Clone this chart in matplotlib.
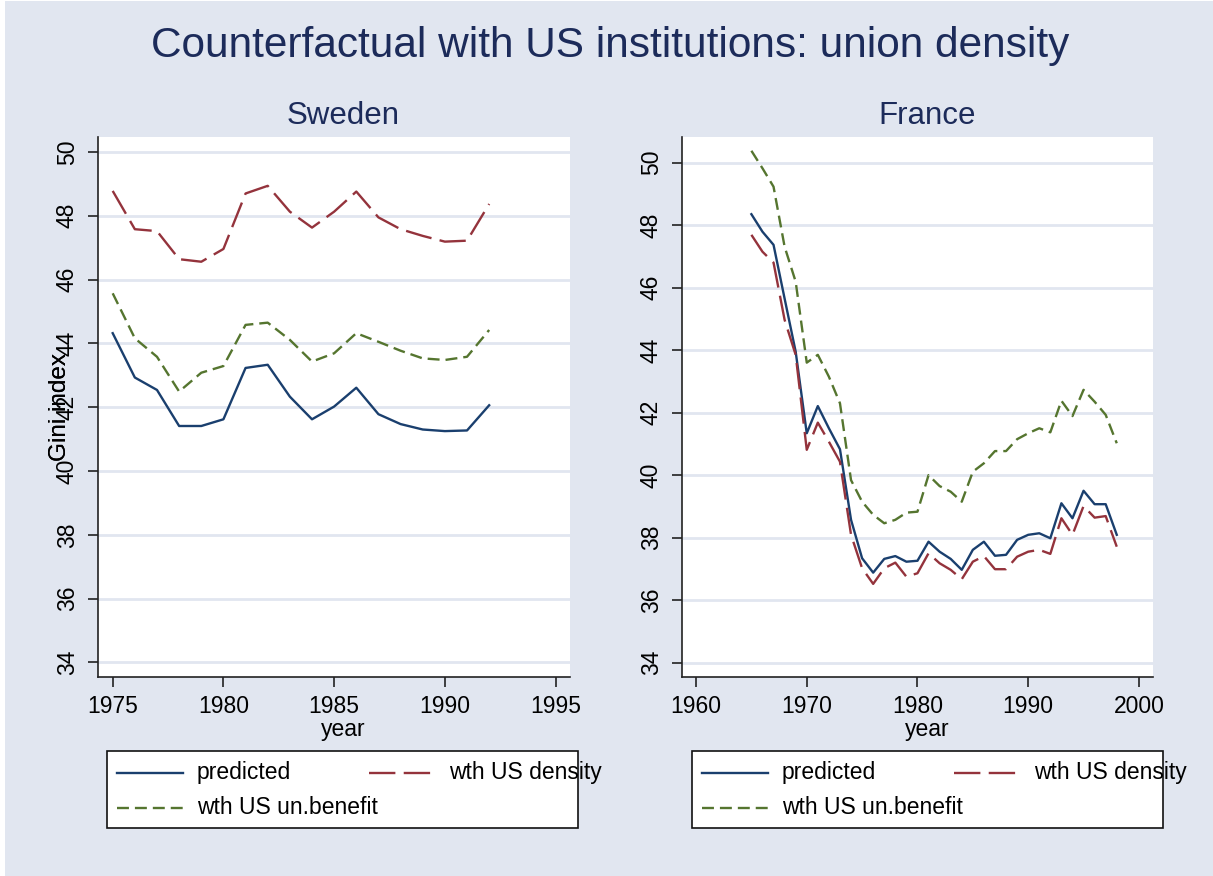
import matplotlib
matplotlib.use("Agg")
import matplotlib.pyplot as plt
from matplotlib.lines import Line2D
from matplotlib.patches import Rectangle

plt.rcParams['font.family'] = ['Liberation Sans', 'DejaVu Sans']
plt.rcParams['lines.scale_dashes'] = False

# --- data ---
swe_years = list(range(1975, 1993))
swe_pred = [44.32, 42.93, 42.54, 41.41, 41.41, 41.62, 43.23, 43.33, 42.33, 41.62,
            42.02, 42.61, 41.78, 41.47, 41.30, 41.25, 41.27, 42.06]
swe_density = [48.78, 47.58, 47.52, 46.64, 46.56, 46.96, 48.70, 48.94, 48.13, 47.63,
               48.13, 48.76, 47.95, 47.58, 47.37, 47.19, 47.22, 48.37]
swe_benefit = [45.57, 44.16, 43.58, 42.49, 43.08, 43.29, 44.58, 44.65, 44.11, 43.43,
               43.69, 44.32, 44.05, 43.77, 43.53, 43.48, 43.58, 44.42]

fra_years = list(range(1965, 1999))
fra_pred = [48.35, 47.79, 47.37, 45.65, 43.95, 41.34, 42.21, 41.50, 40.83, 38.57,
            37.34, 36.88, 37.32, 37.41, 37.23, 37.26, 37.87, 37.55, 37.32, 36.97,
            37.61, 37.87, 37.42, 37.45, 37.93, 38.09, 38.14, 37.98, 39.10, 38.62,
            39.50, 39.07, 39.07, 38.09]
fra_density = [47.69, 47.15, 46.80, 44.97, 43.85, 40.81, 41.68, 41.07, 40.43, 38.09,
               37.02, 36.52, 37.02, 37.20, 36.75, 36.86, 37.50, 37.18, 36.97, 36.67,
               37.23, 37.41, 36.99, 36.99, 37.39, 37.55, 37.61, 37.48, 38.62, 38.09,
               39.01, 38.64, 38.69, 37.71]
fra_benefit = [50.38, 49.82, 49.23, 47.31, 46.19, 43.60, 43.85, 43.15, 42.30, 39.84,
               39.15, 38.73, 38.46, 38.57, 38.80, 38.83, 40.00, 39.65, 39.47, 39.15,
               40.11, 40.38, 40.77, 40.77, 41.15, 41.34, 41.50, 41.37, 42.38, 41.89,
               42.73, 42.35, 41.93, 41.02]

series_labels = ['predicted', 'wth US density', 'wth US un.benefit']
y_ticks = [34, 36, 38, 40, 42, 44, 46, 48, 50]

BG = '#e1e6f0'
NAVY = '#1a3f6e'
MAROON = '#94333c'
GREEN = '#55752f'
TITLE_C = '#1c2b5a'

W, H = 1213, 876
fig = plt.figure(figsize=(W / 100, H / 100), dpi=100, facecolor='white')
fig.add_artist(Rectangle((5 / W, 0), 1 - 5 / W, 1 - 1 / H, transform=fig.transFigure,
                         facecolor=BG, edgecolor='none', zorder=-10))

fig.text(610 / W, 1 - 46 / H, 'Counterfactual with US institutions: union density',
         ha='center', va='center', fontsize=30.5, color=TITLE_C)

styles = [dict(color=NAVY, linestyle='-'),
          dict(color=MAROON, linestyle=(0, (19, 6))),
          dict(color=GREEN, linestyle=(0, (8.6, 4.3)))]


def px(x, y):
    return x / W, 1 - y / H


def panel(left, right, name, years, series, xlim, ytop, xticks):
    top, bottom = 136.7, 676.7
    ax = fig.add_axes([left / W, 1 - bottom / H, (right - left) / W, (bottom - top) / H])
    ax.set_facecolor('white')
    for vals, st in zip(series, styles):
        ax.plot(years, vals, linewidth=1.7, **st)
    ax.set_xlim(*xlim)
    ax.set_ylim(33.55, ytop)
    ax.set_yticks(y_ticks)
    ax.set_xticks(xticks)
    ax.grid(axis='y', color=BG, linewidth=2)
    ax.set_axisbelow(True)
    for s in ['top', 'right']:
        ax.spines[s].set_visible(False)
    for s in ['left', 'bottom']:
        ax.spines[s].set_color('#222222')
        ax.spines[s].set_linewidth(1.2)
    ax.tick_params(axis='both', labelsize=16.5, length=7, width=1.2, color='#222222')
    ax.tick_params(axis='y', labelrotation=90, pad=7)
    ax.tick_params(axis='x', pad=6)
    for lab in ax.get_yticklabels():
        lab.set_va('center')
    mid = (left + right) / 2 + 9
    ax.set_xlabel('year', fontsize=16.5)
    ax.xaxis.set_label_coords((mid - left) / (right - left), -(718 - bottom) / (bottom - top))
    ax.set_ylabel('Gini index', fontsize=17.5)
    ax.yaxis.set_label_coords((71 - left) / (right - left), 0.5)
    fig.text(mid / W, 1 - 116 / H, name, ha='center', va='center',
             fontsize=22.5, color=TITLE_C)
    return ax


panel(98.3, 570, 'Sweden', swe_years, [swe_pred, swe_density, swe_benefit],
      (1974.35, 1995.65), 50.48, [1975, 1980, 1985, 1990, 1995])
panel(682.3, 1153.3, 'France', fra_years, [fra_pred, fra_density, fra_benefit],
      (1958.76, 2001.3), 50.83, [1960, 1970, 1980, 1990, 2000])


def legend_box(x0):
    x1 = x0 + 471
    fig.add_artist(Rectangle(px(x0, 828), (x1 - x0) / W, 77 / H, transform=fig.transFigure,
                             facecolor='white', edgecolor='#111111', linewidth=1.2))
    slots = [(x0 + 10, 773), (x0 + 262, 773), (x0 + 10, 808)]
    for (hx, hy), st, lab in zip(slots, styles, series_labels):
        a, b = px(hx, hy)
        c, _ = px(hx + 66, hy)
        fig.add_artist(Line2D([a, c], [b, b], transform=fig.transFigure, linewidth=1.7, **st))
        tx, ty = px(hx + 80, hy)
        fig.text(tx, ty, lab, fontsize=16.5, va='center', ha='left', color='black')


legend_box(107)
legend_box(691.7)

fig.savefig('out.png', dpi=100, facecolor=fig.get_facecolor())
